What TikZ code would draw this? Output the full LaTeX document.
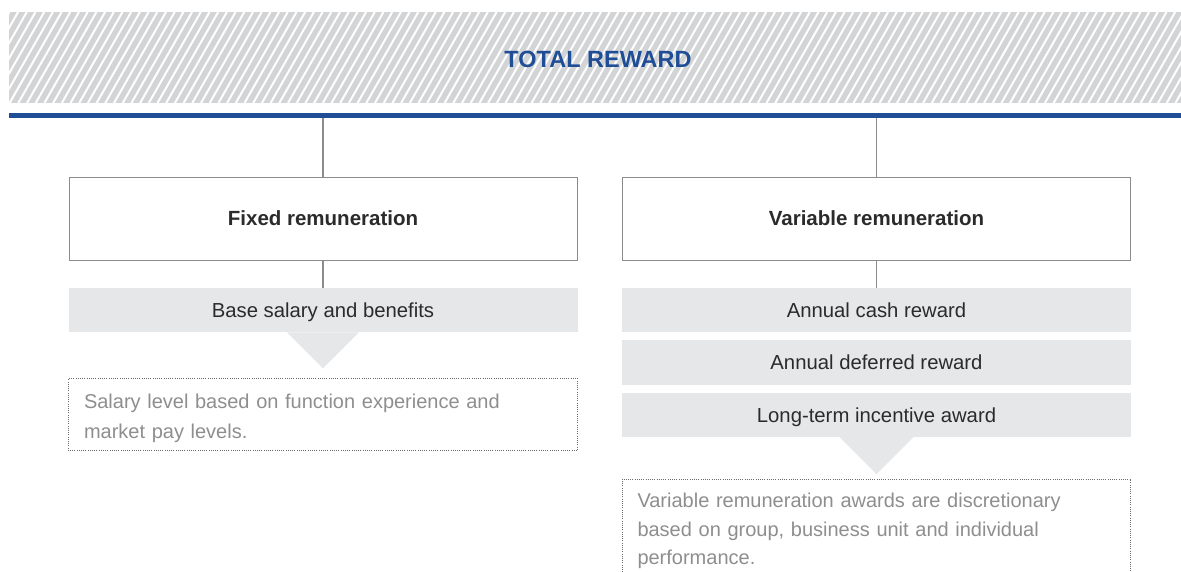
\documentclass[tikz,border=0pt]{standalone}
\usepackage{fontspec}
\setmainfont{Liberation Sans}
\usetikzlibrary{positioning}
\definecolor{rewardblue}{HTML}{1F4E96}
\definecolor{hatchgray}{HTML}{D3D4D6}
\definecolor{barfill}{HTML}{E6E7E8}
\definecolor{linegray}{HTML}{8C8C8C}
\definecolor{textdark}{HTML}{2B2B2B}
\definecolor{notegray}{HTML}{8E8E8E}
\tikzset{
	titlebox/.style = {rectangle, draw=linegray, line width=1pt, fill=white, minimum width=508pt, minimum height=83pt, text=textdark, font=\bfseries\fontsize{20.5}{24}\selectfont},
	bar/.style = {rectangle, fill=barfill, minimum width=509pt, minimum height=44.5pt, inner sep=0pt, text height=17pt, text depth=2.5pt, text=textdark, font=\fontsize{20.3}{24}\selectfont},
	note/.style = {rectangle, text width=478pt, inner xsep=15pt, align=left, text=notegray, font=\fontsize{20}{28.5}\selectfont},
	notedots/.style = {draw=textdark!70, line width=0.9pt, dash pattern=on 1pt off 1.2pt},
	stem/.style = {draw=linegray, line width=1.4pt}
}

\begin{document}
\begin{tikzpicture}[x=1pt, y=-1pt]
		\useasboundingbox (0,0) rectangle (1181,571);
		%header band
		\fill[hatchgray] (9,12) rectangle (1181,103);
		\begin{scope}
			\clip (9,12) rectangle (1181,103);
			\foreach \k in {0,...,150}
				\draw[white, line width=2pt] ({-60+8.7*\k},103) -- ({-8+8.7*\k},12);
		\end{scope}
		\node (total) at (598,59) [text=rewardblue, font=\bfseries\fontsize{23.5}{28}\selectfont] {TOTAL REWARD};
		\draw[rewardblue, line width=5pt] (9,115.5) -- (1181,115.5);
		\coordinate (fixtop) at (323,118);
		\coordinate (vartop) at (876.5,118);

		%boxes
		\node (fixed) [titlebox] at (323,218.5) {Fixed remuneration};
		\node (variable) [titlebox] at (876.5,218.5) {Variable remuneration};
		\node (base) [bar, below=27pt of fixed] {Base salary and benefits};
		\node (cash) [bar, below=27pt of variable] {Annual cash reward};
		\node (deferred) [bar, below=7.5pt of cash] {Annual deferred reward};
		\node (lti) [bar, below=7.5pt of deferred] {Long-term incentive award};

		%pointers
		\fill[barfill] ([xshift=-36pt]base.south) -- ([xshift=36pt]base.south) -- ++(-36pt,-36pt) -- cycle;
		\fill[barfill] ([xshift=-37pt]lti.south) -- ([xshift=37pt]lti.south) -- ++(-37pt,-37pt) -- cycle;

		%notes
		\node (fixnote) [note, font=\fontsize{20}{30}\selectfont, minimum height=72pt, below=46pt of base] {\rule{0pt}{22pt}Salary level based on function experience and\\market pay levels.};
		\draw[notedots] (fixnote.south west) rectangle (fixnote.north east);
		\node (varnote) [note, anchor=north, inner ysep=14pt] at (876.5,479) {Variable remuneration awards are discretionary\\based on group, business unit and individual\\performance.};
		\draw[notedots] ([yshift=-20pt]varnote.south west) -- (varnote.north west) -- (varnote.north east) -- ([yshift=-20pt]varnote.south east);

		%connectors
		\path [stem] (fixtop) -- (fixed);
		\path [stem] (vartop) -- (variable);
		\path [stem] (fixed) -- (base);
		\path [stem] (variable) -- (cash);
\end{tikzpicture}
\end{document}
